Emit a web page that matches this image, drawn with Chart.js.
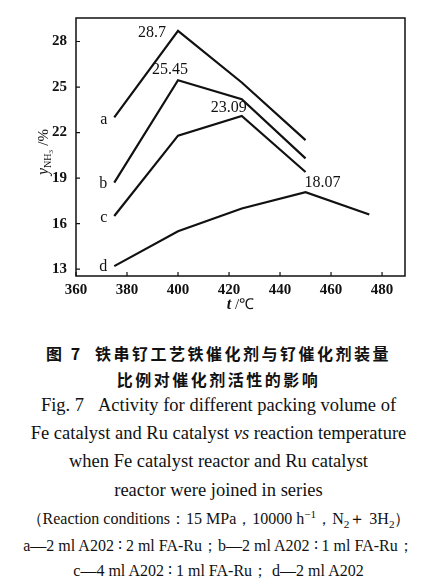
<!DOCTYPE html>
<html>
<head>
<meta charset="utf-8">
<script src="https://cdn.jsdelivr.net/npm/chart.js@4"></script>
<style>
  html, body { margin: 0; padding: 0; background: #fff; }
  body { width: 437px; height: 587px; position: relative; overflow: hidden; }
  #wrap { position: absolute; left: 0; top: 0; width: 437px; height: 325px; }
  .cap { position: absolute; left: 0; width: 437px; text-align: center; color: #111; white-space: nowrap; }
  .zh { font-family: "Noto Sans CJK SC", sans-serif; font-weight: 700; font-size: 16px; letter-spacing: 2.5px; }
  .en { font-family: "Liberation Serif", serif; font-size: 18.5px; }
  .sm { font-family: "Liberation Serif", serif; font-size: 16px; }
  sub, sup { font-size: 70%; line-height: 0; }
</style>
</head>
<body>
<div id="wrap"><canvas id="chart"></canvas></div>

<div class="cap zh" style="top:341px">图 7&nbsp;&nbsp;铁串钌工艺铁催化剂与钌催化剂装量</div>
<div class="cap zh" style="top:367px">比例对催化剂活性的影响</div>
<div class="cap en" style="top:395px">Fig. 7&nbsp;&nbsp;&nbsp;Activity for different packing volume of</div>
<div class="cap en" style="top:423px">Fe catalyst and Ru catalyst <i>vs</i> reaction temperature</div>
<div class="cap en" style="top:451px">when Fe catalyst reactor and Ru catalyst</div>
<div class="cap en" style="top:480px">reactor were joined in series</div>
<div class="cap sm" style="top:509px">（Reaction conditions：15 MPa，10000 h<sup>−1</sup>，N<sub>2</sub>＋ 3H<sub>2</sub>）</div>
<div class="cap sm" style="top:536px">a—2 ml A202 ∶ 2 ml FA-Ru；b—2 ml A202 ∶ 1 ml FA-Ru；</div>
<div class="cap sm" style="top:561px">c—4 ml A202 ∶ 1 ml FA-Ru；&nbsp;d—2 ml A202</div>

<script>
// ---------------- DATA ----------------
const temps = [375, 400, 425, 450, 475];
const seriesNames = ["a", "b", "c", "d"];
const seriesA = [23.0, 28.7, 25.3, 21.5];
const seriesB = [18.7, 25.45, 24.2, 20.3];
const seriesC = [16.5, 21.8, 23.09, 19.4];
const seriesD = [13.2, 15.5, 17.0, 18.07, 16.6];
const xTicks = [360, 380, 400, 420, 440, 460, 480];
const yTicks = [13, 16, 19, 22, 25, 28];
// which point of each series carries its value as a label
const peakIndex = [1, 1, 2, 3];

const allSeries = [seriesA, seriesB, seriesC, seriesD];
const serif = "'Liberation Serif', 'Times New Roman', serif";

// offsets of the text labels from their points (px)
const peakOffsets = [
  { dx: -12, dy: 2, align: "right" },
  { dx: -8, dy: -10, align: "center" },
  { dx: -13, dy: -8, align: "center" },
  { dx: 17, dy: -9, align: "center" }
];
const letterOffsets = [
  { dx: -7, dy: 2 }, { dx: -7, dy: 1 }, { dx: -7, dy: 2 }, { dx: -7, dy: 1 }
];

// ---------------- PLUGIN: box, inward ticks, labels, titles ----------------
const decorations = {
  id: "decorations",
  afterDraw(chart) {
    const { ctx, chartArea: a, scales } = chart;
    ctx.save();
    ctx.strokeStyle = "#111";
    ctx.lineWidth = 1.5;
    ctx.strokeRect(a.left, a.top, a.right - a.left, a.bottom - a.top);

    // inward ticks
    ctx.lineWidth = 1.2;
    ctx.beginPath();
    xTicks.forEach(v => {
      const px = scales.x.getPixelForValue(v);
      ctx.moveTo(px, a.bottom); ctx.lineTo(px, a.bottom - 4);
    });
    yTicks.forEach(v => {
      const py = scales.y.getPixelForValue(v);
      ctx.moveTo(a.left, py); ctx.lineTo(a.left + 4, py);
    });
    ctx.stroke();

    ctx.fillStyle = "#111";
    ctx.textBaseline = "middle";

    // peak values
    ctx.font = "16px " + serif;
    allSeries.forEach((s, i) => {
      const k = peakIndex[i];
      const o = peakOffsets[i];
      const px = scales.x.getPixelForValue(temps[k]) + o.dx;
      const py = scales.y.getPixelForValue(s[k]) + o.dy;
      ctx.textAlign = o.align;
      ctx.fillText(String(s[k]), px, py);
    });

    // series letters at the start of each line
    ctx.font = "16px " + serif;
    ctx.textAlign = "right";
    allSeries.forEach((s, i) => {
      const o = letterOffsets[i];
      const px = scales.x.getPixelForValue(temps[0]) + o.dx;
      const py = scales.y.getPixelForValue(s[0]) + o.dy;
      ctx.fillText(seriesNames[i], px, py);
    });

    // x title: t /℃
    const cx = (a.left + a.right) / 2;
    ctx.textAlign = "left";
    ctx.font = "bold italic 16px " + serif;
    const tW = ctx.measureText("t").width;
    ctx.font = "15px " + serif;
    const restW = ctx.measureText(" /℃").width;
    let x0 = cx - (tW + restW) / 2;
    ctx.font = "bold italic 16px " + serif;
    ctx.fillText("t", x0, 305);
    ctx.font = "15px " + serif;
    ctx.fillText(" /℃", x0 + tW, 305);

    // y title: y_NH3 /%
    ctx.translate(44, 152);
    ctx.rotate(-Math.PI / 2);
    ctx.font = "italic 16px " + serif;
    const yW = ctx.measureText("y").width;
    ctx.font = "10px " + serif;
    const subW = ctx.measureText("NH").width;
    const sub3W = ctx.measureText("3").width * 0.8;
    ctx.font = "15px " + serif;
    const pW = ctx.measureText(" /%").width;
    let sx = -(yW + subW + sub3W + pW) / 2;
    ctx.font = "italic 16px " + serif;
    ctx.fillText("y", sx, 0);
    sx += yW;
    ctx.font = "10px " + serif;
    ctx.fillText("NH", sx, 4);
    sx += subW;
    ctx.font = "7px " + serif;
    ctx.fillText("3", sx, 7);
    sx += sub3W;
    ctx.font = "15px " + serif;
    ctx.fillText(" /%", sx, 0);
    ctx.restore();
  }
};

// ---------------- CHART ----------------
function initializeChart() {
  const ctx = document.getElementById("chart").getContext("2d");
  const datasets = allSeries.map((s, i) => ({
    label: seriesNames[i],
    data: s.map((v, k) => ({ x: temps[k], y: v })),
    borderColor: "#111",
    borderWidth: 2.2,
    pointRadius: 0,
    fill: false,
    tension: 0
  }));

  new Chart(ctx, {
    type: "line",
    data: { datasets },
    options: {
      responsive: true,
      maintainAspectRatio: false,
      animation: false,
      layout: { padding: { left: 0, right: 32, top: 9, bottom: 0 } },
      plugins: {
        legend: { display: false },
        tooltip: { enabled: false }
      },
      scales: {
        x: {
          type: "linear",
          min: 360,
          max: 489,
          afterBuildTicks: axis => { axis.ticks = xTicks.map(v => ({ value: v })); },
          afterFit: axis => { axis.height = 49; },
          grid: { display: false, drawTicks: false },
          border: { display: false },
          ticks: {
            color: "#111",
            padding: 5,
            maxRotation: 0,
            font: { family: serif, size: 15, weight: "bold" }
          }
        },
        y: {
          min: 12.55,
          max: 29.55,
          afterBuildTicks: axis => { axis.ticks = yTicks.map(v => ({ value: v })); },
          afterFit: axis => { axis.width = 76; },
          grid: { display: false, drawTicks: false },
          border: { display: false },
          ticks: {
            color: "#111",
            padding: 9,
            font: { family: serif, size: 15, weight: "bold" }
          }
        }
      }
    },
    plugins: [decorations]
  });
}

initializeChart();
</script>
</body>
</html>
